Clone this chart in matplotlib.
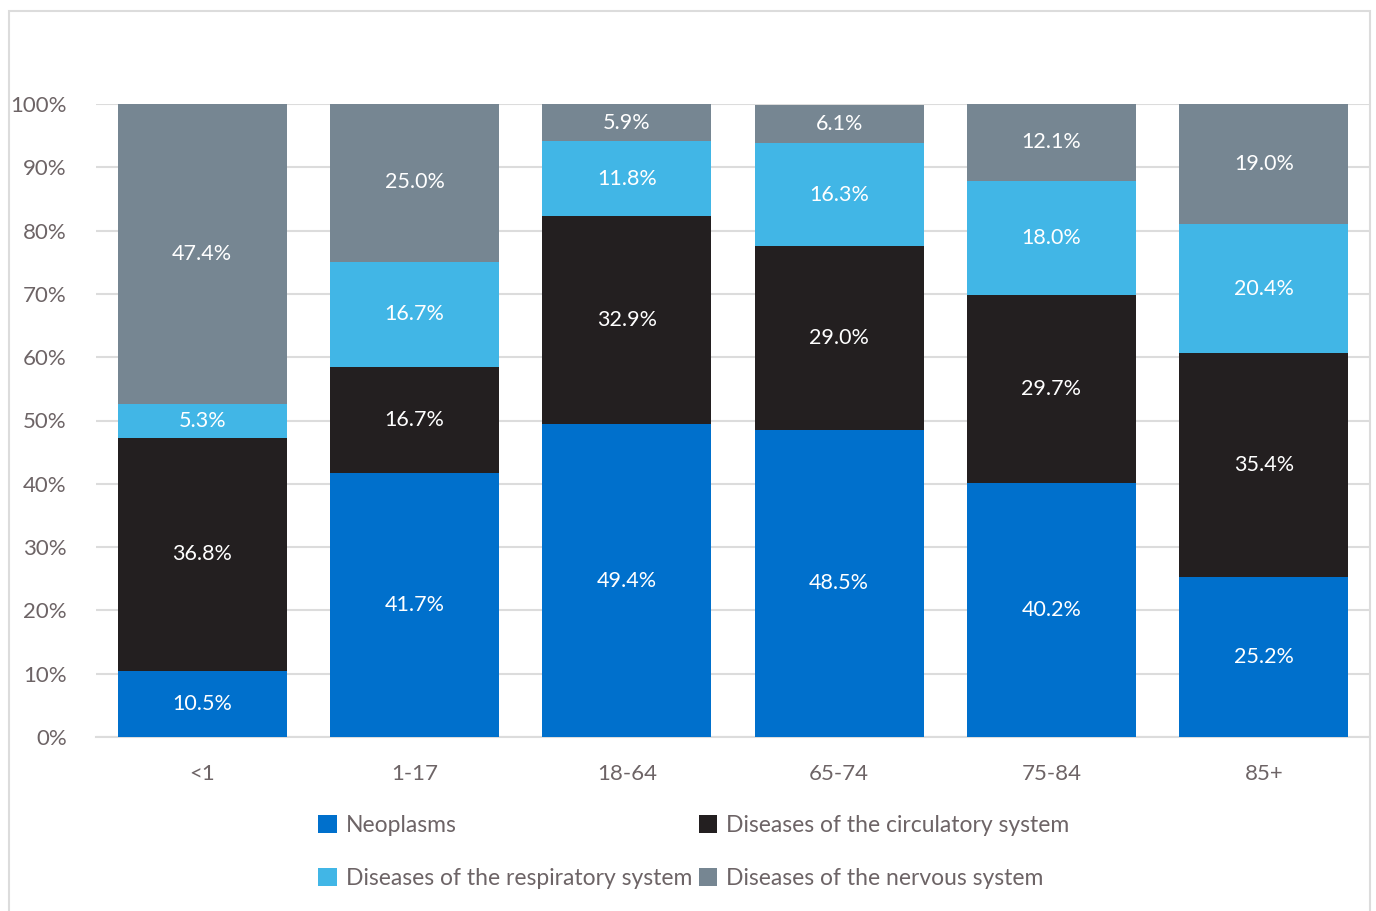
import numpy as np
import matplotlib.pyplot as plt
from matplotlib.patches import Rectangle

plt.rcParams['font.family'] = ['Lato', 'DejaVu Sans']

# age groups and share of deaths per cause (%)
groups = ['<1', '1-17', '18-64', '65-74', '75-84', '85+']
neoplasms = [10.5, 41.7, 49.4, 48.5, 40.2, 25.2]
circulatory = [36.8, 16.7, 32.9, 29.0, 29.7, 35.4]
respiratory = [5.3, 16.7, 11.8, 16.3, 18.0, 20.4]
nervous = [47.4, 25.0, 5.9, 6.1, 12.1, 19.0]

series = [
    ('Neoplasms', neoplasms, '#0070cc'),
    ('Diseases of the circulatory system', circulatory, '#231f20'),
    ('Diseases of the respiratory system', respiratory, '#41b6e6'),
    ('Diseases of the nervous system', nervous, '#768692'),
]

text_grey = '#6d6466'
grid_grey = '#dcdcdc'

fig = plt.figure(figsize=(13.76, 9.11), dpi=100)
ax = fig.add_axes([96 / 1376, 1 - 737 / 911, (1370 - 96) / 1376, (737 - 104) / 911])

# outer frame
fig.patches.append(Rectangle((9 / 1376, -0.05), (1370 - 9) / 1376, 1.05 - 11 / 911,
                             transform=fig.transFigure, fill=False,
                             edgecolor=grid_grey, lw=1.5))

x = np.arange(len(groups))
bottom = np.zeros(len(groups))
handles = {}
for name, vals, color in series:
    vals = np.array(vals)
    bars = ax.bar(x, vals, 0.795, bottom=bottom, color=color, zorder=3, label=name)
    handles[name] = bars
    for xi, b, v in zip(x, bottom, vals):
        ax.text(xi, b + v / 2, f'{v:.1f}%', ha='center', va='center',
                color='white', fontsize=15.5, zorder=4)
    bottom += vals

ax.set_xlim(-0.5, len(groups) - 0.5)
ax.set_ylim(0, 100)
ax.set_yticks(np.arange(0, 101, 10))
ax.set_yticklabels([f'{t}%' for t in range(0, 101, 10)])
ax.set_xticks(x)
ax.set_xticklabels(groups)
ax.tick_params(axis='y', length=0, pad=21, labelsize=16, labelcolor=text_grey)
ax.tick_params(axis='x', length=0, pad=19.5, labelsize=16, labelcolor=text_grey)
ax.grid(axis='y', color=grid_grey, lw=1.5, zorder=0)
ax.set_axisbelow(True)
for s in ['top', 'right', 'left']:
    ax.spines[s].set_visible(False)
ax.spines['bottom'].set_color(grid_grey)
ax.spines['bottom'].set_linewidth(1.5)

order = ['Neoplasms', 'Diseases of the respiratory system',
         'Diseases of the circulatory system', 'Diseases of the nervous system']
leg = fig.legend([handles[n] for n in order], order, ncol=2,
                 loc='center', bbox_to_anchor=(694 / 1376, 1 - 852 / 911),
                 frameon=False, fontsize=16.5, handlelength=0.8, handleheight=0.8,
                 handletextpad=0.4, columnspacing=0.3, labelspacing=1.4)
for t in leg.get_texts():
    t.set_color(text_grey)

fig.savefig('out.png', dpi=100)
